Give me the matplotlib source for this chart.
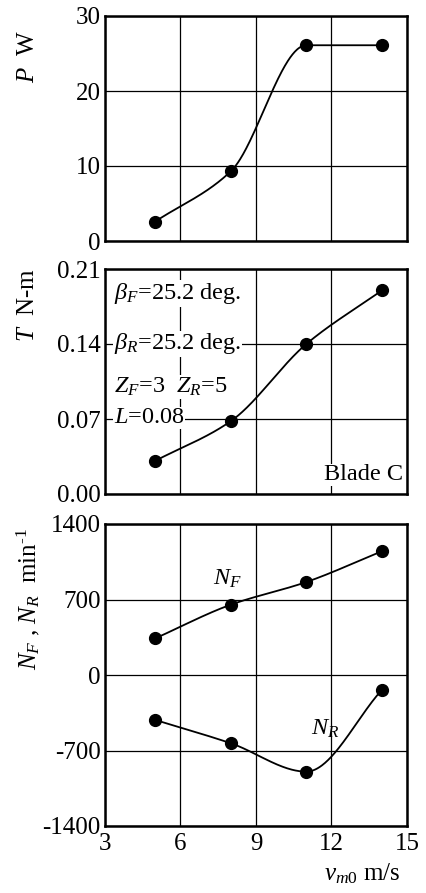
import numpy as np
import matplotlib
matplotlib.use("Agg")
import matplotlib.pyplot as plt

plt.rcParams['font.family'] = ['Liberation Serif', 'DejaVu Serif']
plt.rcParams['mathtext.fontset'] = 'custom'
plt.rcParams['mathtext.rm'] = 'Liberation Serif'
plt.rcParams['mathtext.it'] = 'Liberation Serif:italic'
plt.rcParams['mathtext.bf'] = 'Liberation Serif:bold'

# data
v = [5, 8, 11, 14]
P = [2.6, 9.3, 26.1, 26.1]
T = [0.031, 0.068, 0.140, 0.190]
NF = [340, 652, 862, 1147]
NR = [-417, -633, -896, -139]

x_ticks = [3, 6, 9, 12, 15]
P_ticks = [0, 10, 20, 30]
T_ticks = [0.00, 0.07, 0.14, 0.21]
N_ticks = [-1400, -700, 0, 700, 1400]


def pchip(x, y, xs):
    x = np.asarray(x, float); y = np.asarray(y, float)
    h = np.diff(x); d = np.diff(y) / h
    n = len(x); m = np.zeros(n)
    for k in range(1, n - 1):
        if d[k - 1] * d[k] <= 0:
            m[k] = 0
        else:
            w1 = 2 * h[k] + h[k - 1]; w2 = h[k] + 2 * h[k - 1]
            m[k] = (w1 + w2) / (w1 / d[k - 1] + w2 / d[k])
    m[0] = d[0]; m[-1] = d[-1]
    out = np.empty_like(xs)
    for i, xv in enumerate(xs):
        k = min(np.searchsorted(x, xv, side='right') - 1, n - 2)
        k = max(k, 0)
        t = (xv - x[k]) / h[k]
        h00 = 2*t**3 - 3*t**2 + 1; h10 = t**3 - 2*t**2 + t
        h01 = -2*t**3 + 3*t**2; h11 = t**3 - t**2
        out[i] = h00*y[k] + h10*h[k]*m[k] + h01*y[k+1] + h11*h[k]*m[k+1]
    return out


W, H = 427, 893
fig = plt.figure(figsize=(W/100, H/100), dpi=100)
left = 105 / W; width = 302 / W

def mk(top, bot):
    return fig.add_axes([left, 1 - bot / H, width, (bot - top) / H])

ax1 = mk(16, 241)
ax2 = mk(269, 494)
ax3 = mk(524, 826)

FS = 18
AFS = 17.5
xs = np.linspace(5, 14, 300)

def style(ax, yt, ylim, ylabels):
    ax.set_xlim(3, 15)
    ax.set_ylim(*ylim)
    ax.set_xticks(x_ticks)
    ax.set_yticks(yt)
    ax.set_yticklabels(ylabels, fontsize=FS)
    ax.grid(True, color='black', linewidth=0.9)
    ax.set_axisbelow(True)
    ax.tick_params(length=0, pad=3)
    for s in ax.spines.values():
        s.set_linewidth(1.8)

style(ax1, P_ticks, (0, 30), [str(t) for t in P_ticks])
ax1.set_xticklabels([])
ax1.plot(xs, pchip(v, P, xs), color='black', lw=1.3)
ax1.plot(v, P, 'o', color='black', ms=8.5)

style(ax2, T_ticks, (0, 0.21), ['%.2f' % t for t in T_ticks])
ax2.set_xticklabels([])
ax2.plot(xs, pchip(v, T, xs), color='black', lw=1.3)
ax2.plot(v, T, 'o', color='black', ms=8.5)
bb = dict(facecolor='white', edgecolor='none', pad=0.5)
ax2.text(3.35, 0.187, r'$\beta_F$=25.2 deg.', fontsize=AFS, va='center', bbox=bb)
ax2.text(3.35, 0.140, r'$\beta_R$=25.2 deg.', fontsize=AFS, va='center', bbox=bb)
ax2.text(3.35, 0.100, r'$Z_F$=3  $Z_R$=5', fontsize=AFS, va='center', bbox=bb)
ax2.text(3.35, 0.071, r'$L$=0.08', fontsize=AFS, va='center', bbox=bb)
ax2.text(14.85, 0.008, 'Blade C', fontsize=AFS, ha='right', va='bottom', bbox=bb)

style(ax3, N_ticks, (-1400, 1400), [str(t) for t in N_ticks])
ax3.set_xticklabels([str(t) for t in x_ticks], fontsize=FS)
ax3.tick_params(axis='x', pad=5)
ax3.plot(xs, pchip(v, NF, xs), color='black', lw=1.3)
ax3.plot(v, NF, 'o', color='black', ms=8.5)
ax3.plot(xs, pchip(v, NR, xs), color='black', lw=1.3)
ax3.plot(v, NR, 'o', color='black', ms=8.5)
ax3.text(7.3, 890, r'$N_F$', fontsize=AFS, va='center')
ax3.text(11.2, -500, r'$N_R$', fontsize=AFS, va='center')

fig.text(28 / W, 1 - 30 / H, r'$P$  W', rotation=90, fontsize=FS, ha='center', va='top')
fig.text(28 / W, 1 - 268 / H, r'$T$  N-m', rotation=90, fontsize=FS, ha='center', va='top')
fig.text(28 / W, 1 - 528 / H, r'$N_F$ , $N_R$  min$^{\text{-1}}$', rotation=90, fontsize=FS, ha='center', va='top')
fig.text(400 / W, 1 - 880 / H, r'$v_{m0}$ m/s', fontsize=FS, ha='right', va='baseline')

fig.savefig('out.png', dpi=100, facecolor='white')
